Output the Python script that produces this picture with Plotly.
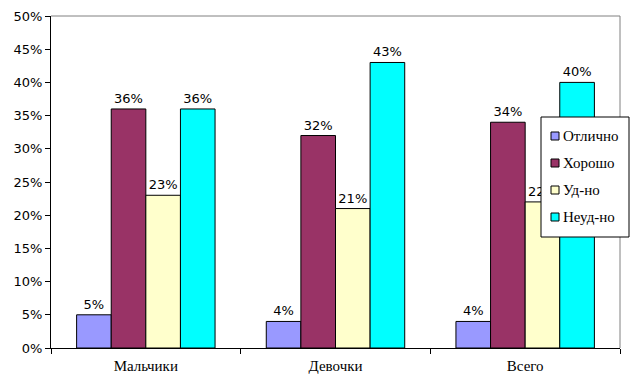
import plotly.graph_objects as go

categories = ["Мальчики", "Девочки", "Всего"]
series_names = ["Отлично", "Хорошо", "Уд-но", "Неуд-но"]
otlichno = [0.05, 0.04, 0.04]
khorosho = [0.36, 0.32, 0.34]
udno = [0.23, 0.21, 0.22]
neudno = [0.36, 0.43, 0.40]
colors = ["#9999FF", "#993366", "#FFFFCC", "#00FFFF"]

SERIF = "Liberation Serif"
SANS = "DejaVu Sans"

# plot area in pixels
L, R, T, B = 51, 620, 16, 348
W, H = R - L, B - T
def px(x):
    return (x - L) / W
def py(y):
    return (B - y) / H

fig = go.Figure()
for i, (name, vals) in enumerate(zip(series_names, [otlichno, khorosho, udno, neudno])):
    fig.add_trace(go.Bar(
        x=categories, y=vals, name=name,
        marker=dict(color=colors[i], line=dict(color="black", width=1)),
        text=[f"{round(v*100)}%" for v in vals],
        textposition="outside", cliponaxis=False, constraintext="none",
        textfont=dict(family=SANS, size=13, color="black"),
        showlegend=False,
    ))

shapes = [
    dict(type="line", xref="paper", yref="paper", x0=0, x1=1, y0=1, y1=1,
         line=dict(color="#808080", width=1)),
    dict(type="line", xref="paper", yref="paper", x0=1, x1=1, y0=0, y1=1,
         line=dict(color="#808080", width=1)),
    # legend box
    dict(type="rect", xref="paper", yref="paper", x0=px(541), x1=px(629),
         y0=py(237), y1=py(117), fillcolor="white", line=dict(color="black", width=1),
         layer="above"),
]
annotations = []
row_y = [136, 163, 190, 217]
for name, c, yy in zip(series_names, colors, row_y):
    shapes.append(dict(type="rect", xref="paper", yref="paper",
                       x0=px(551), x1=px(559), y0=py(yy + 4), y1=py(yy - 4),
                       fillcolor=c, line=dict(color="black", width=1), layer="above"))
    annotations.append(dict(xref="paper", yref="paper", x=px(561), y=py(yy),
                            xanchor="left", yanchor="middle", showarrow=False,
                            text=name, font=dict(family=SERIF, size=15, color="black")))

fig.update_layout(
    width=632, height=382,
    margin=dict(l=L, r=632 - R, t=T, b=382 - B, autoexpand=False),
    paper_bgcolor="white", plot_bgcolor="white",
    barmode="group", bargap=0.27, bargroupgap=0,
    font=dict(family=SERIF, size=15, color="black"),
    showlegend=False,
    xaxis=dict(
        showline=True, linecolor="black", linewidth=1,
        ticks="outside", tickson="boundaries", ticklen=5, tickcolor="black",
        showgrid=False, ticklabelstandoff=4,
        tickfont=dict(family=SERIF, size=15),
    ),
    yaxis=dict(
        range=[0, 0.5], dtick=0.05, tickformat=".0%",
        showline=True, linecolor="black", linewidth=1,
        ticks="outside", ticklen=5, tickcolor="black",
        showgrid=False, zeroline=False,
        tickfont=dict(family=SANS, size=13),
    ),
    shapes=shapes,
    annotations=annotations,
)

fig.write_html("out.html")
